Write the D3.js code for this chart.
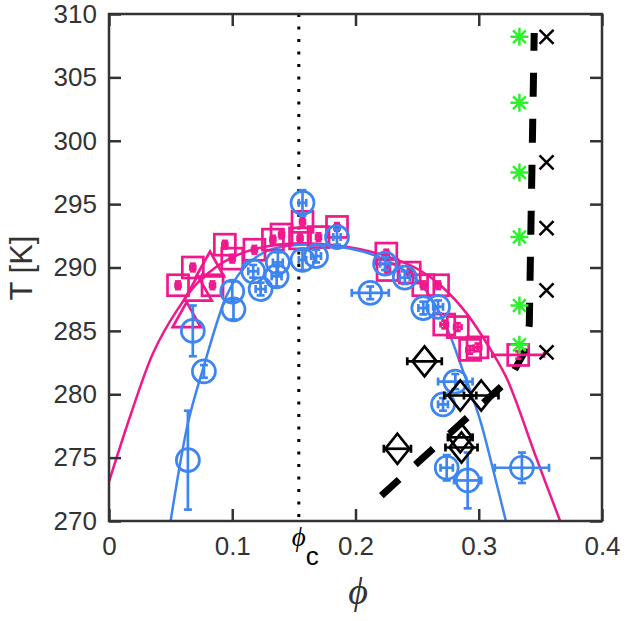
<!doctype html>
<html>
<head>
<style type="text/css">
body { margin: 0; background: white; }
.axis text { fill: #333; font: 26px "Liberation Sans", Arial, sans-serif; }
.axis path, .axis line { stroke: #333; stroke-width: 2.5; }
</style>
</head>
<body>
<svg width="625" height="621"></svg>
<script src="https://d3js.org/d3.v7.min.js"></script>
<script>
// [phi, T, phiErr, TErr]
var blueCircles = [
  [0.064, 274.8, 0, 3.9], [0.068, 285.0, 0, 2.0], [0.077, 281.8, 0, 0.5],
  [0.100, 288.1, 0, 0.8], [0.101, 286.7, 0, 0.8], [0.117, 289.7, 0.004, 0.5],
  [0.123, 288.3, 0.004, 0.5], [0.137, 290.4, 0.004, 0.8], [0.136, 289.3, 0.004, 0.8],
  [0.157, 295.1, 0.003, 1.0], [0.157, 290.6, 0.003, 0.8], [0.168, 290.9, 0.004, 0.5],
  [0.185, 292.4, 0.003, 0.6], [0.224, 290.3, 0.004, 0.5], [0.240, 289.2, 0.004, 0.5],
  [0.212, 288.0, 0.015, 0.5], [0.255, 286.8, 0.004, 0.5], [0.267, 286.9, 0.004, 0.5],
  [0.281, 281.0, 0.014, 0.6], [0.271, 279.2, 0.004, 0.5], [0.274, 274.2, 0.005, 1.0],
  [0.291, 273.2, 0.011, 2.2], [0.335, 274.2, 0.022, 1.2]
];
var pinkSquares = [
  [0.056, 288.6, 0.002, 0.3], [0.068, 290.0, 0.002, 0.3], [0.084, 288.6, 0.002, 0.3],
  [0.094, 291.8, 0.002, 0.3], [0.100, 290.7, 0.002, 0.3], [0.118, 291.4, 0.002, 0.3],
  [0.133, 292.2, 0.002, 0.3], [0.140, 292.6, 0.002, 0.3], [0.157, 293.6, 0.002, 0.3],
  [0.155, 292.3, 0.002, 0.3], [0.170, 292.4, 0.002, 0.3], [0.185, 293.2, 0.002, 0.3],
  [0.225, 291.1, 0.002, 0.3], [0.226, 289.8, 0.002, 0.3], [0.244, 289.6, 0.002, 0.3],
  [0.255, 288.6, 0.002, 0.3], [0.267, 288.6, 0.002, 0.3], [0.272, 285.5, 0.003, 0.3],
  [0.283, 285.3, 0.003, 0.3], [0.293, 283.5, 0.003, 0.3], [0.299, 283.7, 0.003, 0.3],
  [0.332, 283.1, 0.021, 0.3]
];
var pinkTriangles = [[0.082, 290.0], [0.072, 288.1], [0.063, 286.0]];
var blackDiamonds = [
  [0.256, 282.6, 0.014], [0.285, 279.9, 0.013], [0.302, 279.9, 0.014],
  [0.285, 276.6, 0.010], [0.286, 275.8, 0.013], [0.234, 275.7, 0.011]
];
var greenStarsT = [308.2, 303.0, 297.5, 292.4, 287.0, 283.9];
var greenStarsPhi = 0.333;
var blackCrossesT = [308.2, 298.3, 293.1, 288.2, 283.3];
var blackCrossesPhi = 0.355;
var dashedLine = [[0.221, 272.0], [0.325, 281.2], [0.338, 283.5], [0.341, 285.5], [0.345, 308.5]];
var pinkCurve = [
  [0.0, 273.1], [0.018, 278.5], [0.036, 283.3], [0.055, 286.6], [0.074, 289.0],
  [0.1, 290.8], [0.13, 291.7], [0.165, 291.9], [0.195, 291.6], [0.225, 290.9],
  [0.25, 289.9], [0.27, 288.5], [0.29, 286.4], [0.311, 283.3], [0.323, 281.2],
  [0.347, 274.9], [0.366, 270.0]
];
var blueCurve = [
  [0.050, 270.0], [0.064, 277.7], [0.076, 281.9], [0.096, 287.9], [0.109, 289.9],
  [0.128, 291.3], [0.155, 291.8], [0.195, 291.5], [0.222, 290.7], [0.25, 289.0],
  [0.271, 285.9], [0.287, 281.9], [0.301, 278.0], [0.311, 274.3], [0.322, 270.0]
];
var phiC = 0.154;
var xTicks = [0, 0.1, 0.2, 0.3, 0.4];
var yTicks = [270, 275, 280, 285, 290, 295, 300, 305, 310];

var pink = "#f0188c", blue = "#3d85f0", green = "#2ef02e";

var svg = d3.select("svg");
var x = d3.scaleLinear().domain([0, 0.4]).range([109, 602]);
var y = d3.scaleLinear().domain([270, 310]).range([521, 14]);

svg.append("clipPath").attr("id", "clip").append("rect")
  .attr("x", 109).attr("y", 14).attr("width", 493).attr("height", 507);

var plot = svg.append("g").attr("clip-path", "url(#clip)");

var line = d3.line()
  .x(function(d) { return x(d[0]); })
  .y(function(d) { return y(d[1]); })
  .curve(d3.curveCatmullRom.alpha(0.5));

plot.append("path").datum(pinkCurve).attr("d", line)
  .attr("fill", "none").attr("stroke", pink).attr("stroke-width", 2.5);
plot.append("path").datum(blueCurve).attr("d", line)
  .attr("fill", "none").attr("stroke", blue).attr("stroke-width", 2.5);

// critical concentration
plot.append("line")
  .attr("x1", x(phiC)).attr("x2", x(phiC)).attr("y1", y(310)).attr("y2", y(270))
  .attr("stroke", "black").attr("stroke-width", 3).attr("stroke-dasharray", "3,9.5");

plot.append("path").datum(dashedLine)
  .attr("d", d3.line().x(function(d) { return x(d[0]); }).y(function(d) { return y(d[1]); }))
  .attr("fill", "none").attr("stroke", "black").attr("stroke-width", 7)
  .attr("stroke-dasharray", "24,22");

function errorBars(data, color, cap) {
  var g = plot.append("g").attr("stroke", color).attr("stroke-width", 2.7);
  data.forEach(function(d) {
    var cx = x(d[0]), cy = y(d[1]);
    if (d[2] > 0) {
      var x0 = x(d[0] - d[2]), x1 = x(d[0] + d[2]);
      g.append("line").attr("x1", x0).attr("x2", x1).attr("y1", cy).attr("y2", cy);
      g.append("line").attr("x1", x0).attr("x2", x0).attr("y1", cy - cap).attr("y2", cy + cap);
      g.append("line").attr("x1", x1).attr("x2", x1).attr("y1", cy - cap).attr("y2", cy + cap);
    }
    if (d[3] > 0) {
      var y0 = y(d[1] - d[3]), y1 = y(d[1] + d[3]);
      g.append("line").attr("x1", cx).attr("x2", cx).attr("y1", y0).attr("y2", y1);
      g.append("line").attr("x1", cx - cap).attr("x2", cx + cap).attr("y1", y0).attr("y2", y0);
      g.append("line").attr("x1", cx - cap).attr("x2", cx + cap).attr("y1", y1).attr("y2", y1);
    }
  });
}

errorBars(pinkSquares, pink, 3);
plot.append("g").selectAll("rect").data(pinkSquares).enter().append("rect")
  .attr("x", function(d) { return x(d[0]) - 10.5; })
  .attr("y", function(d) { return y(d[1]) - 10.5; })
  .attr("width", 21).attr("height", 21)
  .attr("fill", "none").attr("stroke", pink).attr("stroke-width", 2.7);

plot.append("g").selectAll("path").data(pinkTriangles).enter().append("path")
  .attr("transform", function(d) { return "translate(" + x(d[0]) + "," + y(d[1]) + ")"; })
  .attr("d", "M0,-16L14,9L-14,9Z")
  .attr("fill", "none").attr("stroke", pink).attr("stroke-width", 2.7);

errorBars(blueCircles, blue, 4);
plot.append("g").selectAll("circle").data(blueCircles).enter().append("circle")
  .attr("cx", function(d) { return x(d[0]); })
  .attr("cy", function(d) { return y(d[1]); })
  .attr("r", 11.5)
  .attr("fill", "none").attr("stroke", blue).attr("stroke-width", 2.7);

errorBars(blackDiamonds.map(function(d) { return [d[0], d[1], d[2], 0]; }), "black", 4);
plot.append("g").selectAll("path").data(blackDiamonds).enter().append("path")
  .attr("transform", function(d) { return "translate(" + x(d[0]) + "," + y(d[1]) + ")"; })
  .attr("d", "M0,-15L12,0L0,15L-12,0Z")
  .attr("fill", "none").attr("stroke", "black").attr("stroke-width", 2.7);

plot.append("g").selectAll("path").data(greenStarsT).enter().append("path")
  .attr("transform", function(t) { return "translate(" + x(greenStarsPhi) + "," + y(t) + ")"; })
  .attr("d", "M-9,0L9,0M0,-9L0,9M-6.4,-6.4L6.4,6.4M-6.4,6.4L6.4,-6.4")
  .attr("stroke", green).attr("stroke-width", 2.5);

plot.append("g").selectAll("path").data(blackCrossesT).enter().append("path")
  .attr("transform", function(t) { return "translate(" + x(blackCrossesPhi) + "," + y(t) + ")"; })
  .attr("d", "M-7,-7L7,7M-7,7L7,-7")
  .attr("stroke", "black").attr("stroke-width", 2.5);

// axes box with inward ticks
svg.append("rect").attr("x", 109).attr("y", 14).attr("width", 493).attr("height", 507)
  .attr("fill", "none").attr("stroke", "#333").attr("stroke-width", 2.5);

svg.append("g").attr("class", "axis").attr("transform", "translate(0,521)")
  .call(d3.axisBottom(x).tickValues(xTicks).tickSizeInner(-12).tickSizeOuter(0).tickPadding(16)
    .tickFormat(d3.format("")));
svg.append("g").attr("class", "axis").attr("transform", "translate(0,14)")
  .call(d3.axisTop(x).tickValues(xTicks).tickSizeInner(-12).tickSizeOuter(0).tickFormat(""));
svg.append("g").attr("class", "axis").attr("transform", "translate(109,0)")
  .call(d3.axisLeft(y).tickValues(yTicks).tickSizeInner(-12).tickSizeOuter(0).tickPadding(12));
svg.append("g").attr("class", "axis").attr("transform", "translate(602,0)")
  .call(d3.axisRight(y).tickValues(yTicks).tickSizeInner(-12).tickSizeOuter(0).tickFormat(""));
svg.selectAll(".axis .domain").remove();

// labels
svg.append("text").attr("x", x(phiC)).attr("y", 546).attr("text-anchor", "middle")
  .style("font", "italic 27px 'Liberation Serif', serif").text("\u03d5");
svg.append("text").attr("x", x(phiC) + 7).attr("y", 565)
  .style("font", "26px 'Liberation Sans', Arial, sans-serif").text("c");

svg.append("text").attr("x", 358).attr("y", 604).attr("text-anchor", "middle")
  .style("font", "italic 38px 'Liberation Serif', serif").attr("fill", "#333").text("\u03d5");

svg.append("text").attr("transform", "translate(32,268) rotate(-90)").attr("text-anchor", "middle")
  .style("font", "31px 'Liberation Sans', Arial, sans-serif").attr("fill", "#333").text("T [K]");
</script>
</body>
</html>
